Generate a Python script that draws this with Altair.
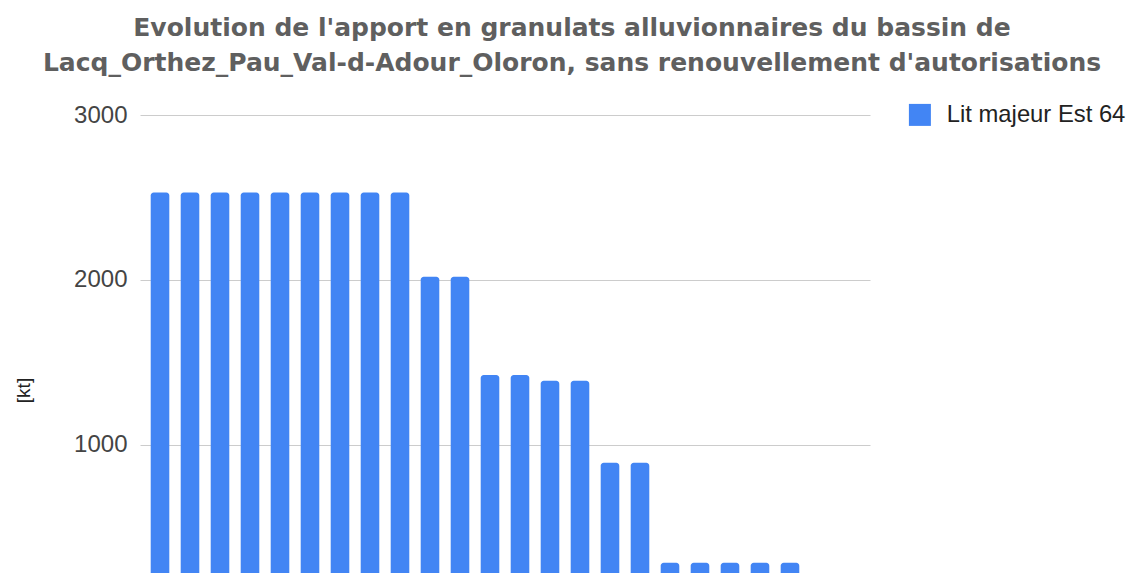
import altair as alt
import pandas as pd

# Data
years = [str(y) for y in range(2022, 2046)]
values = [2530, 2530, 2530, 2530, 2530, 2530, 2530, 2530, 2530,
          2020, 2020,
          1424, 1424,
          1390, 1390,
          893, 893,
          287, 287, 287, 287, 287,
          0, 0]
series = ["Lit majeur Est 64"] * len(years)
title_lines = ["Evolution de l'apport en granulats alluvionnaires du bassin de",
               "Lacq_Orthez_Pau_Val-d-Adour_Oloron, sans renouvellement d'autorisations"]
y_ticks = [1000, 2000, 3000]

df = pd.DataFrame({"annee": years, "valeur": values, "serie": series})

bars = alt.Chart(df).mark_bar(
    clip=True,
    cornerRadiusTopLeft=3,
    cornerRadiusTopRight=3,
).encode(
    x=alt.X("annee:N", sort=years, axis=None,
            scale=alt.Scale(paddingInner=0.38, paddingOuter=0.357)),
    y=alt.Y("valeur:Q",
            scale=alt.Scale(domain=[224.2, 3000], zero=False, nice=False),
            axis=alt.Axis(values=y_ticks, format="d", title="[kt]", grid=True,
                          gridColor="#cccccc",
                          domain=False, ticks=False, labelFontSize=24,
                          labelFont="Liberation Sans", labelColor="#444444",
                          labelPadding=13, titleFont="Liberation Sans",
                          titleFontSize=19, titleFontWeight="normal",
                          titleColor="#222222", titleX=-117, titleY=275,
                          titleAngle=270, titleAlign="center",
                          titleBaseline="middle")),
    y2=alt.datum(0),
    color=alt.Color("serie:N",
                    scale=alt.Scale(range=["#4285f4"]),
                    legend=alt.Legend(title=None, orient="none", legendX=768,
                                      legendY=-12, symbolType="square",
                                      symbolSize=484, symbolStrokeWidth=0,
                                      labelFont="Liberation Sans",
                                      labelFontSize=23.8, labelColor="#222222",
                                      labelOffset=15, labelLimit=400, padding=0)),
)

chart = bars.properties(
    width=730,
    height=458,
    padding={"left": 132, "top": 107, "right": 260, "bottom": 0},
    autosize=alt.AutoSizeParams(type="none"),
    title=alt.TitleParams(text=title_lines, anchor="middle", frame="group",
                          font="DejaVu Sans", fontSize=25, fontWeight="bold",
                          color="#5f5f5f", lineHeight=35, dx=67, offset=27),
).configure_view(stroke=None)

chart.save("out.html", embed_options={"renderer": "svg", "actions": False})
